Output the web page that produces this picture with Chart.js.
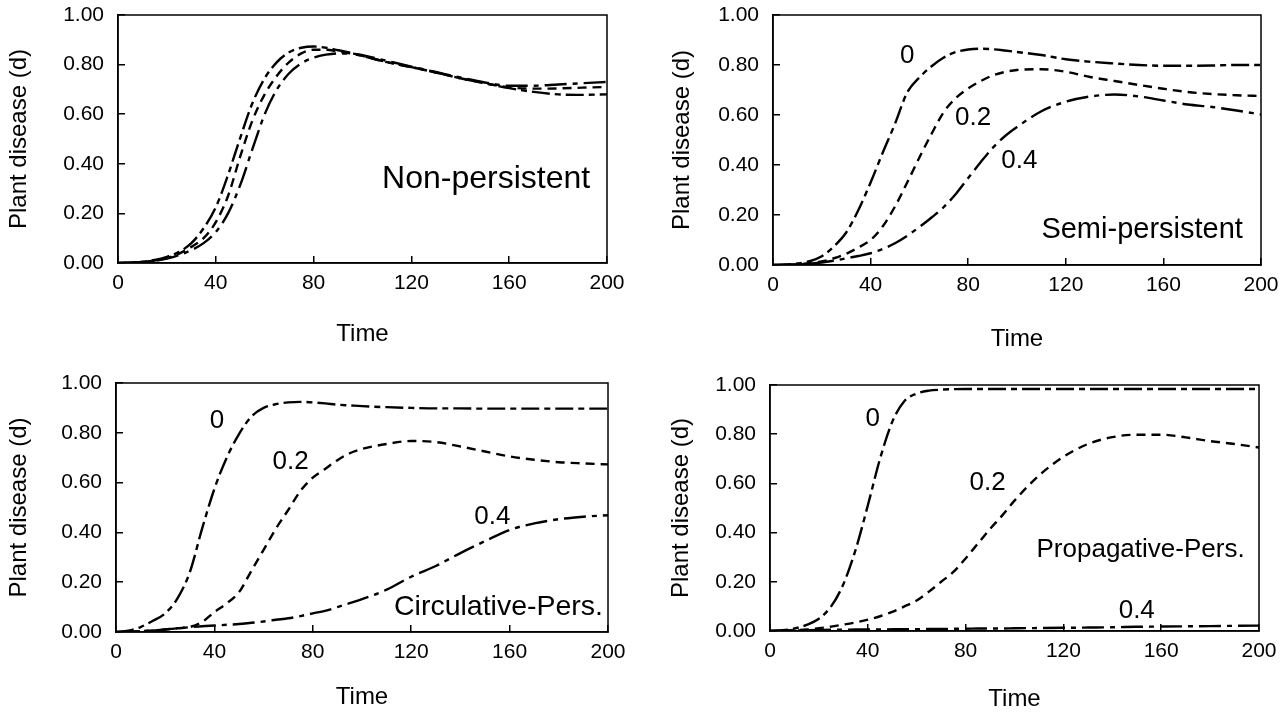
<!DOCTYPE html>
<html>
<head>
<meta charset="utf-8">
<script src="https://cdn.jsdelivr.net/npm/chart.js@4.4.0/dist/chart.umd.min.js"></script>
<style>
body{margin:0;background:#fff;width:1286px;height:714px;overflow:hidden;position:relative}
canvas{position:absolute}
</style>
</head>
<body>
<canvas id="c1" width="643" height="360" style="left:0;top:0"></canvas>
<canvas id="c2" width="643" height="360" style="left:643px;top:0"></canvas>
<canvas id="c3" width="643" height="354" style="left:0;top:360px"></canvas>
<canvas id="c4" width="643" height="354" style="left:643px;top:360px"></canvas>
<script>
// time grid shared by all four panels
const times = [0,5,10,15,20,25,30,35,40,45,50,55,60,65,70,75,80,85,90,95,100,110,120,130,140,150,160,170,180,190,200]

// Non-persistent (three almost identical curves)
const nonPersA = [0,0.002,0.005,0.012,0.025,0.045,0.08,0.14,0.225,0.355,0.505,0.645,0.745,0.81,0.85,0.868,0.873,0.868,0.858,0.848,0.835,0.81,0.79,0.768,0.745,0.725,0.705,0.69,0.68,0.678,0.68]
const nonPersB = [0,0.002,0.004,0.01,0.02,0.038,0.065,0.1,0.165,0.27,0.43,0.575,0.68,0.755,0.81,0.845,0.86,0.86,0.853,0.845,0.835,0.81,0.79,0.768,0.745,0.725,0.708,0.703,0.704,0.707,0.71]
const nonPersC = [0,0.001,0.004,0.009,0.018,0.032,0.052,0.08,0.125,0.2,0.315,0.46,0.6,0.7,0.765,0.805,0.828,0.84,0.845,0.845,0.838,0.815,0.792,0.77,0.748,0.728,0.715,0.715,0.72,0.725,0.73]

// Semi-persistent
const semi0 = [0,0.002,0.006,0.015,0.035,0.075,0.13,0.22,0.33,0.45,0.565,0.69,0.75,0.795,0.83,0.852,0.862,0.865,0.863,0.858,0.852,0.84,0.823,0.813,0.806,0.8,0.797,0.797,0.798,0.8,0.8]
const semi02 = [0,0.001,0.003,0.007,0.014,0.027,0.045,0.07,0.1,0.155,0.234,0.33,0.43,0.525,0.612,0.668,0.706,0.735,0.758,0.772,0.78,0.783,0.773,0.752,0.736,0.72,0.705,0.692,0.684,0.679,0.676]
const semi04 = [0,0.001,0.002,0.005,0.01,0.017,0.027,0.036,0.047,0.064,0.087,0.117,0.152,0.19,0.232,0.285,0.348,0.41,0.468,0.515,0.552,0.615,0.653,0.674,0.682,0.674,0.658,0.642,0.632,0.618,0.602]

// Circulative-persistent
const circ0 = [0,0.005,0.02,0.045,0.075,0.135,0.24,0.415,0.575,0.7,0.795,0.865,0.9,0.915,0.922,0.924,0.922,0.918,0.913,0.91,0.907,0.903,0.9,0.898,0.898,0.897,0.897,0.897,0.897,0.897,0.897]
const circ02 = [0,0.001,0.003,0.006,0.01,0.015,0.02,0.04,0.08,0.115,0.16,0.245,0.33,0.415,0.49,0.567,0.62,0.655,0.69,0.718,0.735,0.755,0.767,0.763,0.745,0.725,0.705,0.692,0.682,0.677,0.673]
const circ04 = [0,0.001,0.003,0.006,0.01,0.015,0.019,0.023,0.026,0.029,0.032,0.037,0.042,0.049,0.055,0.064,0.075,0.085,0.1,0.116,0.132,0.17,0.222,0.265,0.317,0.365,0.41,0.436,0.453,0.463,0.469]

// Propagative-persistent
const prop0 = [0,0.003,0.01,0.025,0.05,0.1,0.19,0.33,0.51,0.7,0.85,0.935,0.965,0.977,0.981,0.983,0.984,0.984,0.984,0.984,0.984,0.984,0.984,0.984,0.984,0.984,0.984,0.984,0.984,0.984,0.984]
const prop02 = [0,0.001,0.003,0.006,0.011,0.018,0.026,0.035,0.046,0.06,0.078,0.1,0.124,0.16,0.2,0.24,0.295,0.355,0.415,0.47,0.53,0.632,0.708,0.76,0.788,0.798,0.798,0.787,0.772,0.76,0.746]
const prop04 = [0,0.001,0.002,0.003,0.004,0.005,0.005,0.006,0.006,0.006,0.007,0.007,0.007,0.008,0.008,0.009,0.009,0.01,0.01,0.01,0.011,0.012,0.013,0.014,0.015,0.017,0.018,0.019,0.02,0.021,0.022]

const xTicks = [0,40,80,120,160,200]
const yTicks = [0,0.2,0.4,0.6,0.8,1.0]

const FONT = '"Liberation Sans", Arial, Helvetica, sans-serif'
const dashes = [[18,5,6,5],[9,6],[22,6,5,6]]

// text placed in data coordinates
const notes = {
    id:"notes",
    afterDatasetsDraw(chart, args, opts){
        const {ctx, scales:{x, y}} = chart
        ctx.save()
        ctx.fillStyle = "#000"
        ctx.textBaseline = "middle"
        opts.items.forEach(n => {
            ctx.font = n.size + "px " + FONT
            ctx.textAlign = n.align || "center"
            ctx.fillText(n.text, x.getPixelForValue(n.t), y.getPixelForValue(n.v))
        })
        ctx.restore()
    }
}

// box around the plot area
const frame = {
    id:"frame",
    afterDraw(chart){
        const {ctx, chartArea:a} = chart
        ctx.save()
        ctx.strokeStyle = "#000"
        ctx.lineWidth = 1.5
        ctx.strokeRect(a.left, a.top, a.right - a.left, a.bottom - a.top)
        ctx.restore()
    }
}

function makePanel(cfg){
    const ctx = document.getElementById(cfg.id).getContext("2d")
    const w = ctx.canvas.width, h = ctx.canvas.height
    new Chart(ctx, {
        type:"line",
        data:{
            datasets: cfg.series.map((s, i) => ({
                data: times.map((t, k) => ({x:t, y:s[k]})),
                borderColor:"#000",
                borderWidth:2.4,
                borderDash:dashes[i],
                pointRadius:0,
                fill:false,
                cubicInterpolationMode:"monotone"
            }))
        },
        options:{
            responsive:false,
            animation:false,
            events:[],
            layout:{padding:{left:0, top:cfg.area[1], right:w - cfg.area[2], bottom:0}},
            plugins:{
                legend:{display:false},
                tooltip:{enabled:false},
                notes:{items:cfg.notes}
            },
            scales:{
                x:{
                    type:"linear",
                    min:0, max:200,
                    afterBuildTicks: s => { s.ticks = xTicks.map(v => ({value:v})) },
                    afterFit: s => { s.height = h - cfg.area[3]; s.paddingLeft = 0; s.paddingRight = 0 },
                    grid:{drawOnChartArea:false, tickLength:-7, color:"#000", lineWidth:1.5},
                    border:{color:"#000", width:1.5},
                    ticks:{color:"#000", padding:15, maxRotation:0, font:{family:FONT, size:21}},
                    title:{display:true, text:"Time", color:"#000", font:{family:FONT, size:24}, padding:{bottom:cfg.timePad}}
                },
                y:{
                    min:0, max:1,
                    afterBuildTicks: s => { s.ticks = yTicks.map(v => ({value:v})) },
                    afterFit: s => { s.width = cfg.area[0]; s.paddingTop = 0; s.paddingBottom = 0 },
                    grid:{drawOnChartArea:false, tickLength:-7, color:"#000", lineWidth:1.5},
                    border:{color:"#000", width:1.5},
                    ticks:{color:"#000", padding:21, font:{family:FONT, size:21}, callback: v => v.toFixed(2)},
                    title:{display:true, text:"Plant disease (d)", color:"#000", font:{family:FONT, size:24}, padding:{top:cfg.plantPad}}
                }
            }
        },
        plugins:[notes, frame]
    })
}

makePanel({
    id:"c1", area:[118,15,607,263], timePad:11, plantPad:5,
    series:[nonPersA, nonPersB, nonPersC],
    notes:[{text:"Non-persistent", t:108, v:0.34, size:32, align:"left"}]
})
makePanel({
    id:"c2", area:[130,15,618,265], timePad:6, plantPad:25,
    series:[semi0, semi02, semi04],
    notes:[
        {text:"0", t:55, v:0.835, size:26},
        {text:"0.2", t:82, v:0.59, size:26},
        {text:"0.4", t:101, v:0.415, size:26},
        {text:"Semi-persistent", t:110, v:0.14, size:29, align:"left"}
    ]
})
makePanel({
    id:"c3", area:[116,23,608,272], timePad:2, plantPad:5,
    series:[circ0, circ02, circ04],
    notes:[
        {text:"0", t:41, v:0.85, size:26},
        {text:"0.2", t:71, v:0.683, size:26},
        {text:"0.4", t:153, v:0.462, size:26},
        {text:"Circulative-Pers.", t:113, v:0.1, size:28.5, align:"left"}
    ]
})
makePanel({
    id:"c4", area:[127,25,616,271], timePad:0, plantPad:24,
    series:[prop0, prop02, prop04],
    notes:[
        {text:"0", t:42, v:0.862, size:26},
        {text:"0.2", t:89, v:0.604, size:26},
        {text:"0.4", t:150, v:0.081, size:26},
        {text:"Propagative-Pers.", t:109, v:0.33, size:26, align:"left"}
    ]
})
</script>
</body>
</html>
